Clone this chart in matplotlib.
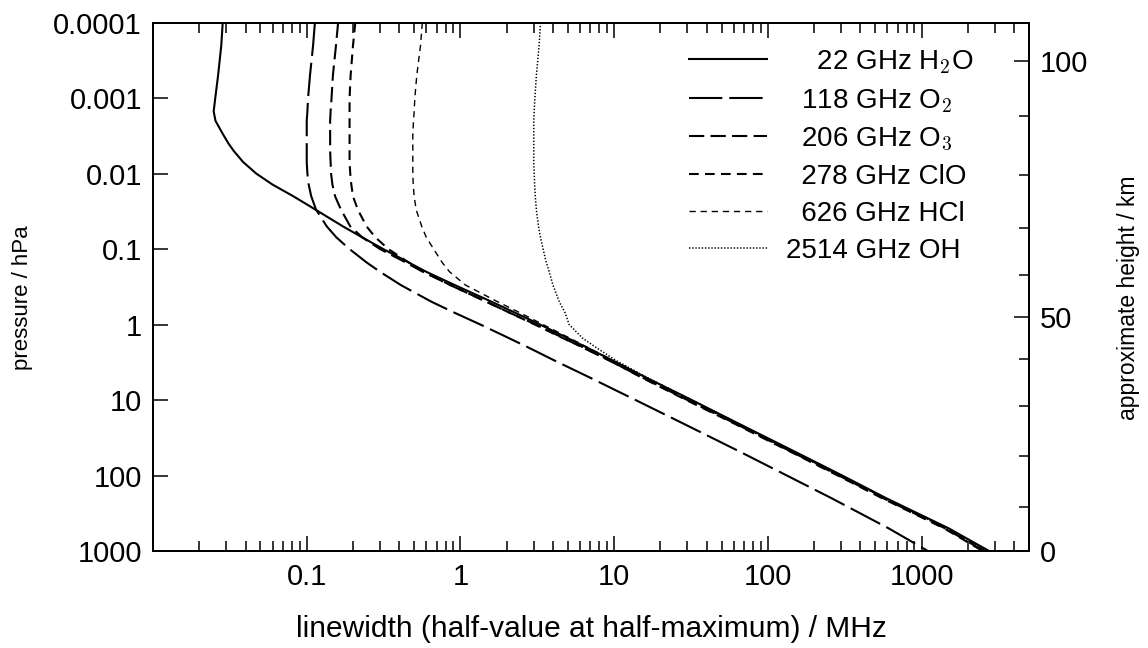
import numpy as np
import matplotlib
matplotlib.use('Agg')
import matplotlib.pyplot as plt
from matplotlib.ticker import LogLocator, NullFormatter, NullLocator

# pressure levels / hPa
pressure = [1e-4, 2e-4, 5e-4, 1e-3, 1.5e-3, 2e-3, 3e-3, 4e-3, 5e-3, 7e-3, 1e-2, 1.4e-2, 2e-2,
            3e-2, 5e-2, 7e-2, 0.1, 0.15, 0.2, 0.3, 0.5, 0.7, 1, 1.5, 2, 3, 5, 10, 20, 50,
            100, 200, 500, 1000]

# half widths / MHz
h2o_22 = [0.0284, 0.0278, 0.0265, 0.0254, 0.0248, 0.0255, 0.0285, 0.0310, 0.0335, 0.0385, 0.0470,
          0.0600, 0.0820, 0.114, 0.172, 0.230, 0.315, 0.46, 0.60, 0.92, 1.6, 2.28, 3.3, 4.95,
          6.6, 9.8, 16, 32, 63, 155, 305, 590, 1500, 2750]
o2_118 = [0.113, 0.110, 0.105, 0.102, 0.101, 0.100, 0.100, 0.100, 0.100, 0.100, 0.101,
          0.103, 0.107, 0.115, 0.135, 0.156, 0.19, 0.245, 0.30, 0.41, 0.65, 0.92, 1.35, 2.05,
          2.75, 4.1, 6.9, 13.8, 27.5, 68, 133, 260, 610, 1100]
o3_206 = [0.160, 0.155, 0.148, 0.145, 0.143, 0.142, 0.142, 0.142, 0.142, 0.143, 0.144,
          0.147, 0.153, 0.167, 0.192, 0.230, 0.30, 0.44, 0.57, 0.86, 1.48, 2.1, 3.1, 4.65,
          6.2, 9.3, 15.2, 30, 60, 147, 290, 565, 1420, 2550]
clo_278 = [0.207, 0.200, 0.193, 0.190, 0.190, 0.190, 0.190, 0.190, 0.190, 0.190, 0.192,
           0.195, 0.200, 0.215, 0.245, 0.280, 0.34, 0.46, 0.58, 0.86, 1.48, 2.1, 3.05, 4.6,
           6.3, 9.4, 15.0, 29.5, 59, 145, 285, 555, 1400, 2500]
hcl_626 = [0.565, 0.550, 0.520, 0.505, 0.500, 0.495, 0.490, 0.490, 0.490, 0.490, 0.490,
           0.493, 0.500, 0.515, 0.560, 0.600, 0.67, 0.76, 0.85, 1.08, 1.75, 2.45, 3.45, 5.1,
           6.7, 9.9, 16.1, 30.5, 61, 150, 295, 575, 1450, 2600]
oh_2514 = [3.32, 3.25, 3.12, 3.05, 3.02, 3.00, 3.00, 3.00, 3.00, 3.00, 3.02,
           3.04, 3.07, 3.12, 3.22, 3.32, 3.45, 3.62, 3.78, 4.0, 4.4, 4.8, 5.1, 6.2,
           7.6, 10.3, 16.3, 32, 61, 149, 294, 572, 1440, 2650]

labels = ['\u2007\u200722 GHz H$_2$O', '\u2007118 GHz O$_2$', '\u2007206 GHz O$_3$',
          '\u2007278 GHz ClO', '\u2007626 GHz HCl', '2514 GHz OH']

# right axis: approximate height / km and the pressure it sits at
height_km = [0, 10, 20, 30, 40, 50, 60, 70, 80, 90, 100]
height_p = [1000, 265, 55, 12, 2.9, 0.80, 0.22, 0.052, 0.0105, 0.0017, 0.00032]

plt.rcParams['font.family'] = ['Liberation Sans', 'DejaVu Sans']
plt.rcParams['mathtext.fontset'] = 'cm'
plt.rcParams['lines.scale_dashes'] = False

fig = plt.figure(figsize=(11.48, 6.48), dpi=100)
ax = fig.add_axes([0.1333, 0.1497, 0.7630, 0.8153])

styles = [
    dict(lw=1.5, ls='-'),
    dict(lw=1.5, dashes=(24, 5)),
    dict(lw=1.5, dashes=(11, 4.5)),
    dict(lw=1.5, dashes=(7, 4.5)),
    dict(lw=1.0, dashes=(4.5, 3.5)),
    dict(lw=1.1, dashes=(1.0, 1.3)),
]
series = [h2o_22, o2_118, o3_206, clo_278, hcl_626, oh_2514]
for w, lab, st in zip(series, labels, styles):
    ax.plot(w, pressure, color='black', label=lab, **st)

ax.set_xscale('log')
ax.set_yscale('log')
ax.set_xlim(0.01, 5000)
ax.set_ylim(1000, 1e-4)

ax.set_xticks([0.1, 1, 10, 100, 1000], ['0.1', '1', '10', '100', '1000'])
ax.xaxis.set_minor_locator(LogLocator(base=10, subs=np.arange(2, 10)))
ax.xaxis.set_minor_formatter(NullFormatter())
ax.set_yticks([1e-4, 1e-3, 1e-2, 0.1, 1, 10, 100, 1000],
              ['0.0001', '0.001', '0.01', '0.1', '1', '10', '100', '1000'])
ax.yaxis.set_minor_locator(NullLocator())

ax.tick_params(which='both', direction='in', top=True, bottom=True, right=False,
               width=1.1, labelsize=21)
ax.tick_params(which='major', length=10.8)
ax.tick_params(which='minor', length=7)
ax.tick_params(axis='x', pad=9)
ax.tick_params(axis='y', pad=8)
for s in ax.spines.values():
    s.set_linewidth(1.4)

ax.set_xlabel('linewidth (half-value at half-maximum) / MHz', fontsize=21.5)
ax.xaxis.set_label_coords(0.5, -0.122)
ax.set_ylabel('pressure / hPa', fontsize=16)
ax.yaxis.set_label_coords(-0.137, 0.48)

ax2 = ax.twinx()
ax2.set_yscale('log')
ax2.set_ylim(1000, 1e-4)
major = [i for i, h in enumerate(height_km) if h % 50 == 0]
minor = [i for i, h in enumerate(height_km) if h % 50 != 0]
ax2.set_yticks([height_p[i] for i in major], [str(height_km[i]) for i in major])
ax2.set_yticks([height_p[i] for i in minor], minor=True)
ax2.yaxis.set_minor_formatter(NullFormatter())
ax2.tick_params(which='both', direction='in', width=1.1, labelsize=21, pad=8)
ax2.tick_params(which='major', length=10.8)
ax2.tick_params(which='minor', length=7)
ax2.set_ylabel('approximate height / km', fontsize=16.5)
ax2.yaxis.set_label_coords(1.100, 0.48)
for s in ax2.spines.values():
    s.set_linewidth(1.4)

leg = ax.legend(loc='upper left', bbox_to_anchor=(0.612, 0.952), frameon=False,
                fontsize=20, handlelength=2.8, handletextpad=0.68, labelspacing=0.40,
                borderaxespad=0, borderpad=0)

fig.savefig('out.png', dpi=100)
